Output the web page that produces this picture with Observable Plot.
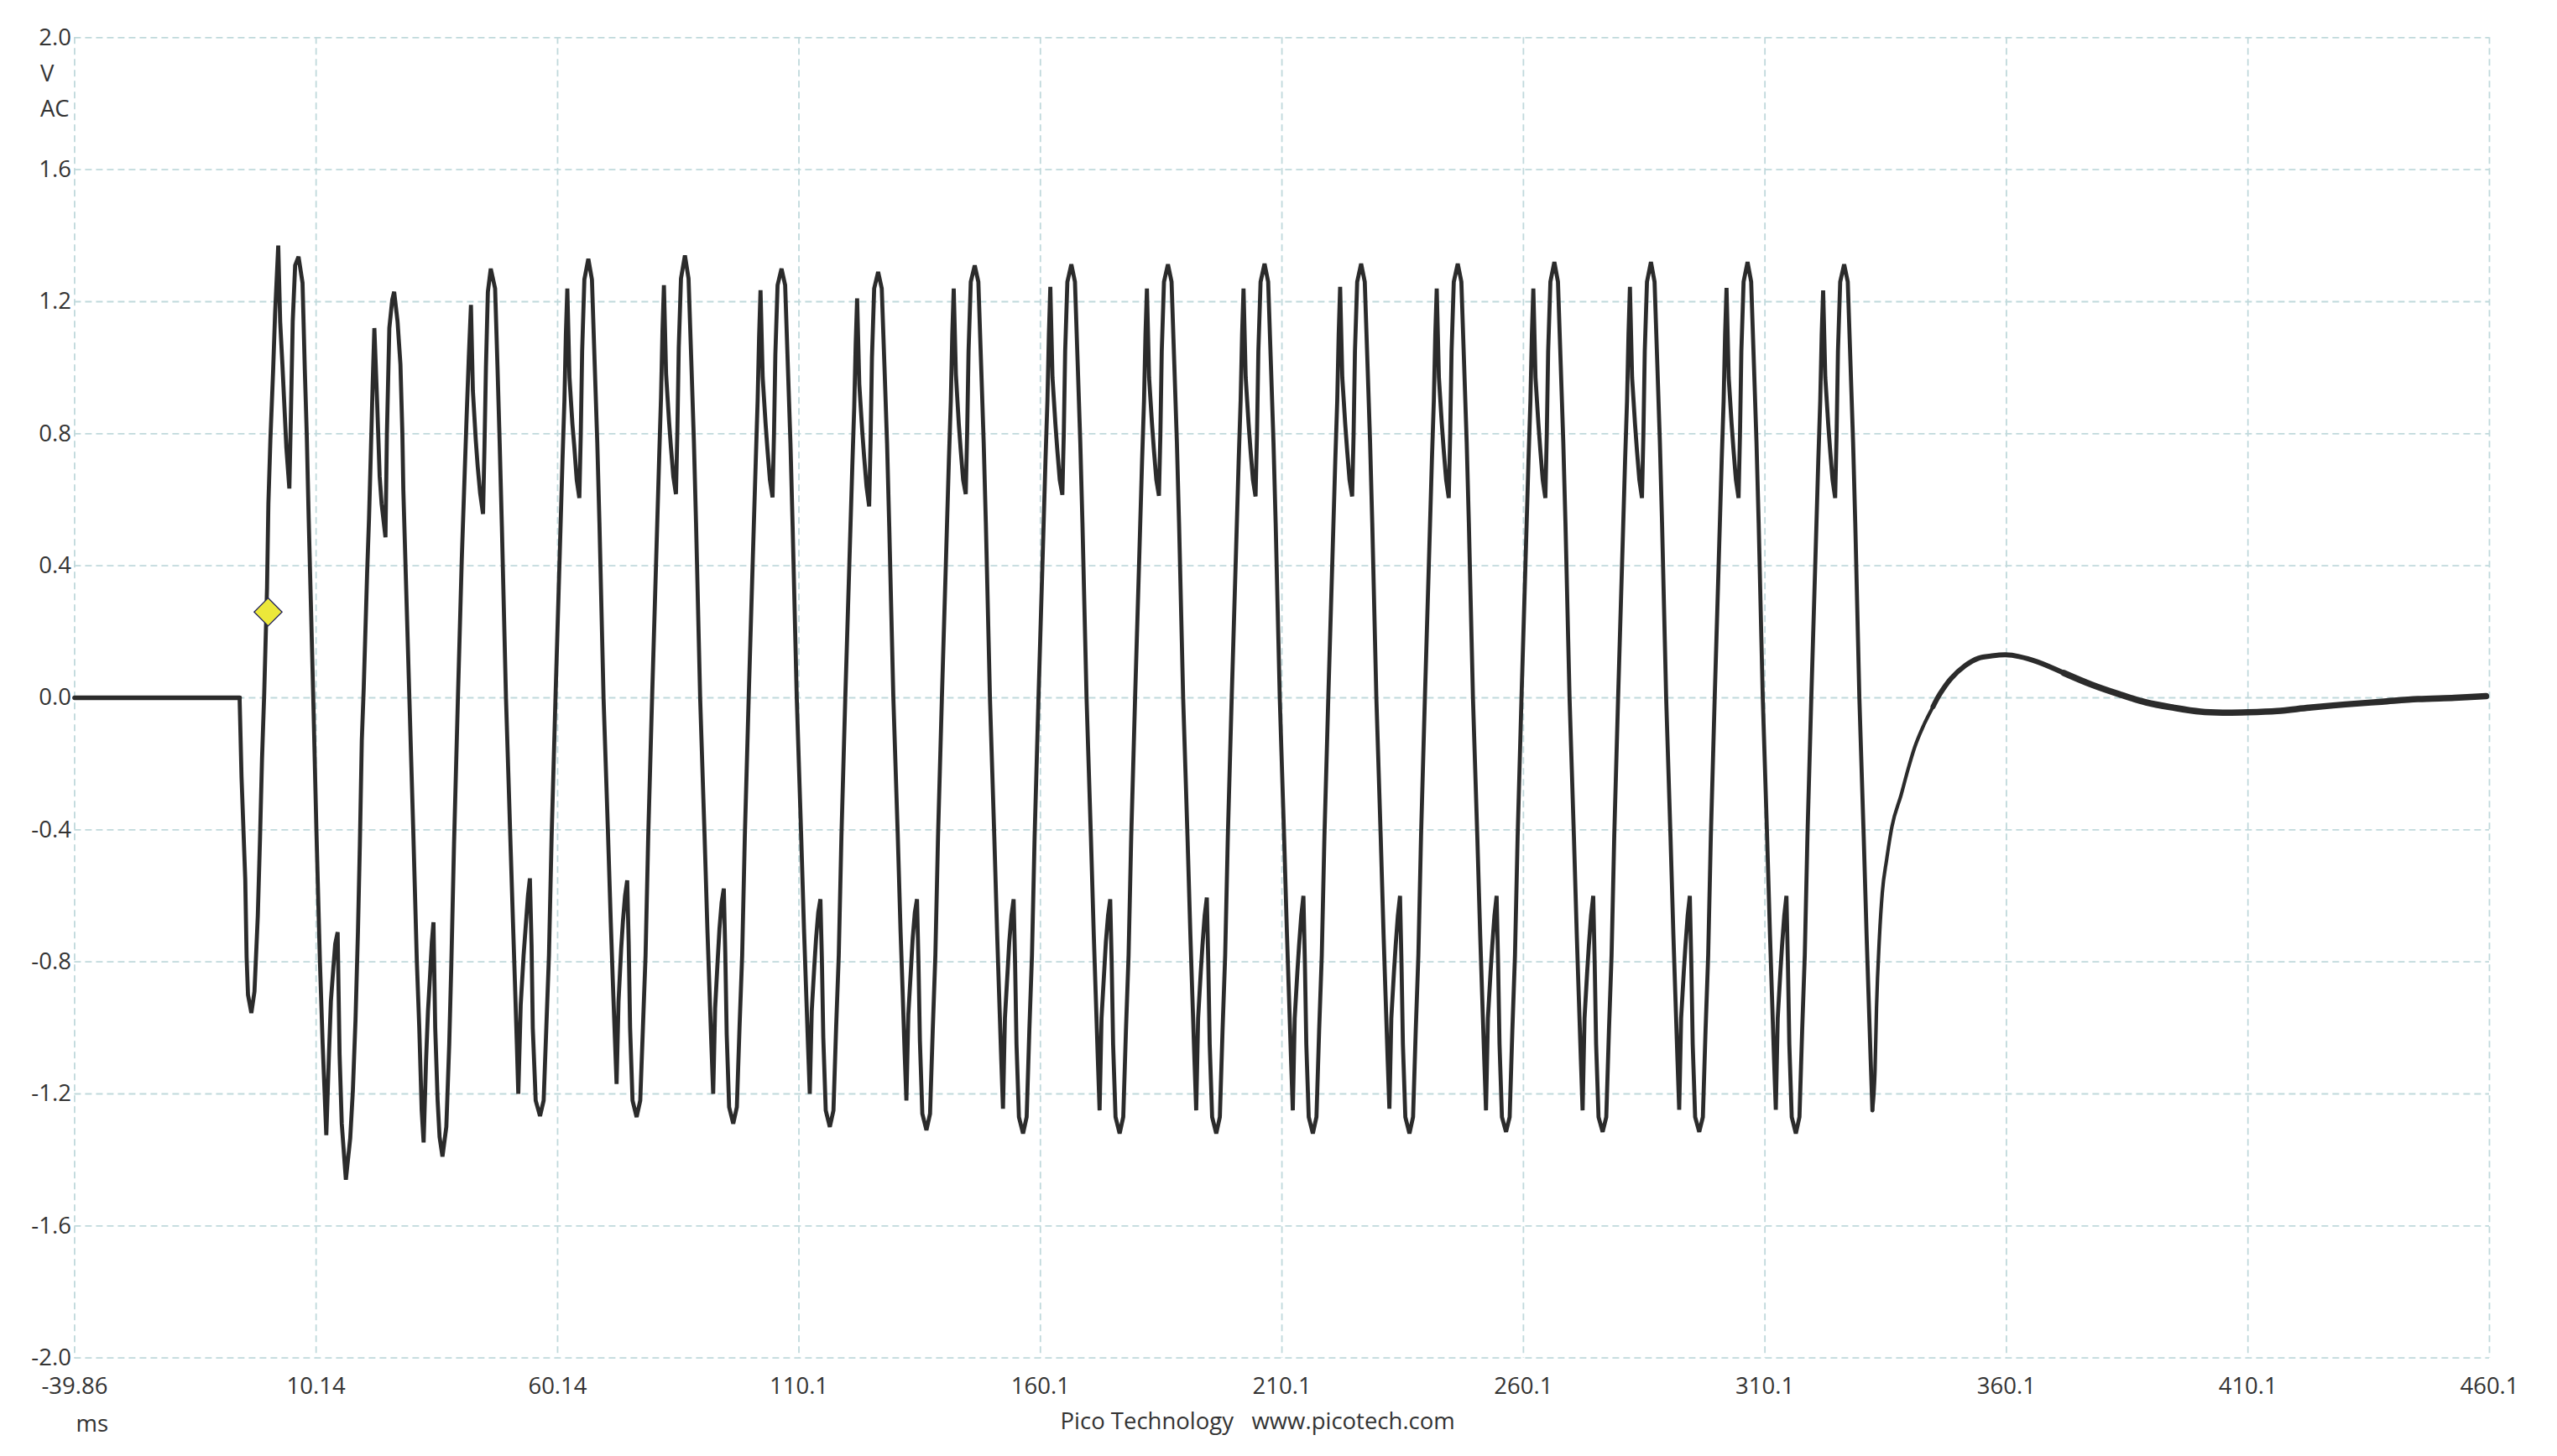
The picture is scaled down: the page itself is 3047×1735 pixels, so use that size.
<!DOCTYPE html>
<html>
<head>
<meta charset="utf-8">
<script src="https://cdn.jsdelivr.net/npm/d3@7"></script>
<script src="https://cdn.jsdelivr.net/npm/@observablehq/plot@0.6"></script>
<style>html,body{margin:0;padding:0;background:#fff;overflow:hidden}svg{display:block}</style>
</head>
<body>
<div id="chart"></div>
<script>
const xTicks = [-39.86, 10.14, 60.14, 110.1, 160.1, 210.1, 260.1, 310.1, 360.1, 410.1, 460.1];
const xTickLabels = ["-39.86", "10.14", "60.14", "110.1", "160.1", "210.1", "260.1", "310.1", "360.1", "410.1", "460.1"];
const yTicks = [2, 1.6, 1.2, 0.8, 0.4, 0, -0.4, -0.8, -1.2, -1.6, -2];

// Quiet baseline before the burst (ms, V)
const flatT = [-39.86, -30, -20, -10, -5.7];
const flatV = [0, 0, 0, 0, 0];

// Start-up and first three cycles (ms, V)
const startT = [-5.7,-5.3,-4.53,-4.25,-3.96,-3.27,-2.62,-1.93,-1.48,-1.06,-0.6,-0.02,0.26,0.68,1.25,1.65,2.3,2.7,3.16,3.57,3.98,4.6,4.9,5.3,5.8,6.5,7.33,7.8,8.2,8.6,9.05,9.55,10.2,10.93,11.5,12.25,12.8,13.2,13.7,14.1,14.6,15,15.45,16.3,17.2,17.75,18.3,18.8,19.2,19.6,20,20.7,21.1,21.5,21.85,22.2,22.8,23.3,23.7,24.5,24.8,25.3,25.9,26.3,27,27.6,28,28.2,28.7,29.45,30.25,31,31.5,32,32.4,32.9,33.3,33.7,34.1,34.44,34.8,35.3,35.7,36.3,37.1,37.7,38.15,38.7,39.5,40.3,40.9,41.3,41.75,42.2,42.6,43.2,43.6,44.1,44.7,45,45.3,45.7,46.3,47.2,47.7,48.15,48.6,49.45,50.3,50.9,51.3,51.7,52,52.5,53.1,53.5,54,54.4,54.75,55,55.6,56.5];
const startV = [0,-0.24,-0.55,-0.785,-0.9,-0.955,-0.89,-0.66,-0.43,-0.186,0.015,0.333,0.588,0.784,0.995,1.165,1.37,1.14,1.01,0.885,0.758,0.634,0.84,1.14,1.31,1.336,1.257,0.995,0.8,0.545,0.29,0,-0.4,-0.8,-1.05,-1.325,-1.08,-0.92,-0.82,-0.745,-0.71,-1.08,-1.29,-1.46,-1.335,-1.19,-0.975,-0.71,-0.445,-0.13,0.03,0.376,0.545,0.758,0.95,1.12,0.885,0.67,0.588,0.486,0.8,1.12,1.206,1.23,1.14,1.01,0.8,0.63,0.376,0,-0.4,-0.8,-1,-1.25,-1.347,-1.1,-0.95,-0.85,-0.74,-0.68,-1,-1.22,-1.33,-1.39,-1.3,-1.05,-0.8,-0.44,0,0.42,0.68,0.85,1.03,1.19,0.93,0.78,0.7,0.62,0.557,0.76,1,1.23,1.3,1.24,1,0.77,0.52,0,-0.4,-0.68,-0.86,-1.05,-1.2,-0.93,-0.78,-0.7,-0.6,-0.547,-0.75,-1,-1.22,-1.267];

// Sample positions inside each later 20 ms mains cycle, ms after its start
const cyclePhase = [0.75,1.3,1.85,2.4,3.2,4.05,4.65,5.05,5.35,5.65,6.1,6.7,7.1,7.6,8.14,8.44,8.72,9.18,10,10.75,11.32,11.85,12.3,13.15,14.05,14.65,15.05,15.5,15.85,16.25,16.8,17.15,17.6,18.05,18.35,18.65,19.15,20];
const cycleStart = [56.5,76.5,96.5,116.5,136.5,156.5,176.5,196.5,216.5,236.5,256.5,276.5,296.5,316.5];

const cycle03 = [-1.22,-1,-0.78,-0.42,0,0.42,0.72,0.9,1.1,1.24,0.97,0.83,0.76,0.66,0.605,0.8,1.05,1.267,1.33,1.267,1.01,0.775,0.53,0,-0.4,-0.68,-0.85,-1.03,-1.17,-0.92,-0.76,-0.68,-0.6,-0.553,-0.74,-1,-1.22,-1.27];
const cycle04 = [-1.22,-1,-0.78,-0.42,0,0.42,0.72,0.91,1.11,1.25,0.98,0.84,0.76,0.67,0.617,0.81,1.06,1.27,1.34,1.27,1.02,0.78,0.53,0,-0.41,-0.7,-0.87,-1.06,-1.2,-0.94,-0.79,-0.7,-0.62,-0.578,-0.77,-1.02,-1.24,-1.29];
const cycle05 = [-1.24,-1,-0.78,-0.42,0,0.42,0.71,0.9,1.09,1.235,0.97,0.83,0.75,0.66,0.607,0.8,1.04,1.25,1.3,1.25,1,0.77,0.52,0,-0.41,-0.7,-0.87,-1.06,-1.2,-0.95,-0.81,-0.73,-0.65,-0.61,-0.79,-1.03,-1.25,-1.3];
const cycle06 = [-1.25,-1,-0.78,-0.42,0,0.41,0.7,0.88,1.07,1.21,0.95,0.81,0.73,0.64,0.58,0.78,1.03,1.24,1.29,1.24,1,0.77,0.52,0,-0.41,-0.71,-0.88,-1.08,-1.22,-0.96,-0.82,-0.73,-0.65,-0.61,-0.8,-1.04,-1.26,-1.31];
const cycle07 = [-1.26,-1.01,-0.78,-0.42,0,0.42,0.72,0.9,1.1,1.24,0.98,0.83,0.75,0.66,0.617,0.81,1.05,1.26,1.31,1.26,1.01,0.775,0.53,0,-0.42,-0.72,-0.9,-1.1,-1.245,-0.97,-0.83,-0.74,-0.66,-0.61,-0.8,-1.05,-1.27,-1.32];
const cycle08 = [-1.27,-1.01,-0.78,-0.42,0,0.42,0.72,0.9,1.1,1.245,0.97,0.83,0.75,0.66,0.615,0.8,1.05,1.26,1.313,1.26,1.01,0.775,0.53,0,-0.42,-0.72,-0.9,-1.1,-1.25,-0.97,-0.83,-0.74,-0.66,-0.61,-0.8,-1.05,-1.27,-1.32];
const cycle09 = [-1.27,-1.01,-0.78,-0.42,0,0.42,0.72,0.9,1.1,1.24,0.97,0.83,0.75,0.66,0.612,0.8,1.05,1.26,1.313,1.26,1.01,0.775,0.53,0,-0.42,-0.72,-0.9,-1.1,-1.25,-0.97,-0.83,-0.75,-0.66,-0.605,-0.8,-1.05,-1.27,-1.32];
const cycle10 = [-1.27,-1.01,-0.78,-0.42,0,0.42,0.72,0.9,1.1,1.24,0.97,0.83,0.75,0.66,0.61,0.8,1.05,1.26,1.315,1.26,1.01,0.775,0.53,0,-0.42,-0.72,-0.9,-1.1,-1.25,-0.97,-0.83,-0.75,-0.66,-0.6,-0.8,-1.05,-1.27,-1.32];
const cycle11 = [-1.27,-1.01,-0.78,-0.42,0,0.42,0.72,0.9,1.1,1.245,0.97,0.83,0.75,0.66,0.61,0.8,1.05,1.26,1.315,1.26,1.01,0.775,0.53,0,-0.42,-0.72,-0.9,-1.1,-1.245,-0.97,-0.83,-0.75,-0.66,-0.6,-0.8,-1.05,-1.27,-1.32];
const cycle12 = [-1.27,-1.01,-0.78,-0.42,0,0.42,0.72,0.9,1.1,1.24,0.97,0.83,0.75,0.66,0.605,0.8,1.05,1.26,1.315,1.26,1.01,0.775,0.53,0,-0.42,-0.72,-0.9,-1.1,-1.25,-0.97,-0.83,-0.75,-0.66,-0.6,-0.8,-1.05,-1.27,-1.315];
const cycle13 = [-1.27,-1.01,-0.78,-0.42,0,0.42,0.72,0.9,1.1,1.24,0.97,0.83,0.75,0.66,0.605,0.8,1.05,1.26,1.32,1.26,1.01,0.775,0.53,0,-0.42,-0.72,-0.9,-1.1,-1.25,-0.97,-0.83,-0.75,-0.66,-0.6,-0.8,-1.05,-1.27,-1.315];
const cycle14 = [-1.27,-1.01,-0.78,-0.42,0,0.42,0.72,0.9,1.1,1.245,0.97,0.83,0.75,0.66,0.605,0.8,1.05,1.26,1.32,1.26,1.01,0.775,0.53,0,-0.42,-0.72,-0.9,-1.1,-1.248,-0.97,-0.83,-0.75,-0.66,-0.6,-0.8,-1.05,-1.27,-1.315];
const cycle15 = [-1.27,-1.01,-0.78,-0.42,0,0.42,0.72,0.9,1.1,1.242,0.97,0.83,0.75,0.66,0.605,0.8,1.05,1.26,1.32,1.26,1.01,0.775,0.53,0,-0.42,-0.72,-0.9,-1.1,-1.248,-0.97,-0.83,-0.75,-0.66,-0.6,-0.8,-1.05,-1.27,-1.32];
const cycle16 = [-1.27,-1.01,-0.78,-0.42,0,0.42,0.72,0.9,1.1,1.234,0.97,0.83,0.75,0.66,0.605,0.8,1.05,1.26,1.313,1.26,1.01,0.775,0.53,0,-0.42,-0.72,-0.9,-1.1,-1.25];
const cycles = [cycle03,cycle04,cycle05,cycle06,cycle07,cycle08,cycle09,cycle10,cycle11,cycle12,cycle13,cycle14,cycle15,cycle16];

// Decay after the final lower spike (ms, V)
const decayT1 = [332.35,332.9,333.2,333.8,334.4,335.3,336.4,338.3,339.7,341.1,343,344.9];
const decayV1 = [-1.25,-1.125,-0.94,-0.727,-0.59,-0.49,-0.39,-0.294,-0.218,-0.15,-0.082,-0.027];
const decayT2 = [344.9,346.3,348.6,351.5,354.3,357.1,359.9,362.7,366.5,372];
const decayV2 = [-0.027,0.011,0.058,0.097,0.12,0.127,0.13,0.125,0.109,0.075];
const decayT3 = [372,377.7,383.4,389,394.7,400.3,404.9,410.1,416.2,422.8,430.3,437.8,445.3,452.9,459.4];
const decayV3 = [0.075,0.04,0.011,-0.014,-0.03,-0.042,-0.045,-0.044,-0.04,-0.03,-0.02,-0.012,-0.004,0,0.005];

const trigger = [{t: 0.2, v: 0.26}];
const unitLabels = ["V", "AC"];
const unitLevels = [1.889, 1.782];

const zip = (ts, vs) => vs.map((v, i) => ({t: ts[i], v}));
const burst = zip(startT, startV).concat(
  ...cycles.map((vs, k) => vs.map((v, i) => ({t: cycleStart[k] + cyclePhase[i], v})))
);

const FONT = "'Open Sans', sans-serif";
const GRID = "#c0d9dc";
const INK = "#2b2b2b";
const gridDash = "8,5";
const LABEL = 27.5;

const chart = Plot.plot({
  width: 3047, height: 1735,
  marginLeft: 88.4, marginRight: 81, marginTop: 44.3, marginBottom: 117.3,
  style: {background: "#fff", fontFamily: FONT, fontSize: "27.5px", color: "#333", overflow: "visible"},
  x: {domain: [-39.86, 460.1], axis: null},
  y: {domain: [-2, 2], axis: null},
  marks: [
    Plot.ruleY(yTicks, {stroke: GRID, strokeWidth: 1.8, strokeDasharray: gridDash}),
    Plot.ruleX(xTicks, {stroke: GRID, strokeWidth: 1.8, strokeDasharray: gridDash}),
    Plot.line(zip(flatT, flatV), {x: "t", y: "v", stroke: INK, strokeWidth: 5.5}),
    Plot.line(burst, {x: "t", y: "v", stroke: INK, strokeWidth: 4.8, strokeLinejoin: "miter", strokeMiterlimit: 3}),
    Plot.line(zip(decayT1, decayV1), {x: "t", y: "v", stroke: INK, strokeWidth: 4.2, curve: "monotone-x"}),
    Plot.line(zip(decayT2, decayV2), {x: "t", y: "v", stroke: INK, strokeWidth: 6, curve: "catmull-rom"}),
    Plot.line(zip(decayT3, decayV3), {x: "t", y: "v", stroke: INK, strokeWidth: 7.5, curve: "catmull-rom"}),
    Plot.dot(trigger, {x: "t", y: "v", symbol: "diamond2", r: 15, fill: "#ece83a", stroke: "#22225a", strokeWidth: 1.3}),
    Plot.text(yTicks, {x: () => -39.86, y: d => d, text: d => d.toFixed(1), textAnchor: "end", dx: -4, fill: "#333", fontSize: LABEL, fontFamily: FONT}),
    Plot.text(unitLabels, {x: () => -39.86, y: (d, i) => unitLevels[i], text: d => d, textAnchor: "start", dx: -41, fill: "#333", fontSize: LABEL, fontFamily: FONT}),
    Plot.text(xTicks, {x: d => d, y: () => -2, text: (d, i) => xTickLabels[i], dy: 34, fill: "#333", fontSize: LABEL, fontFamily: FONT}),
    Plot.text(["ms"], {x: () => -39.86, y: () => -2, text: d => d, dx: 21, dy: 79, fill: "#333", fontSize: LABEL, fontFamily: FONT}),
    Plot.text(["Pico Technology   www.picotech.com"], {x: () => 205.07, y: () => -2, text: d => d, dy: 76, fill: "#333", fontSize: LABEL, fontFamily: FONT, style: {whiteSpace: "pre"}})
  ]
});
document.getElementById("chart").append(chart);
</script>
</body>
</html>
